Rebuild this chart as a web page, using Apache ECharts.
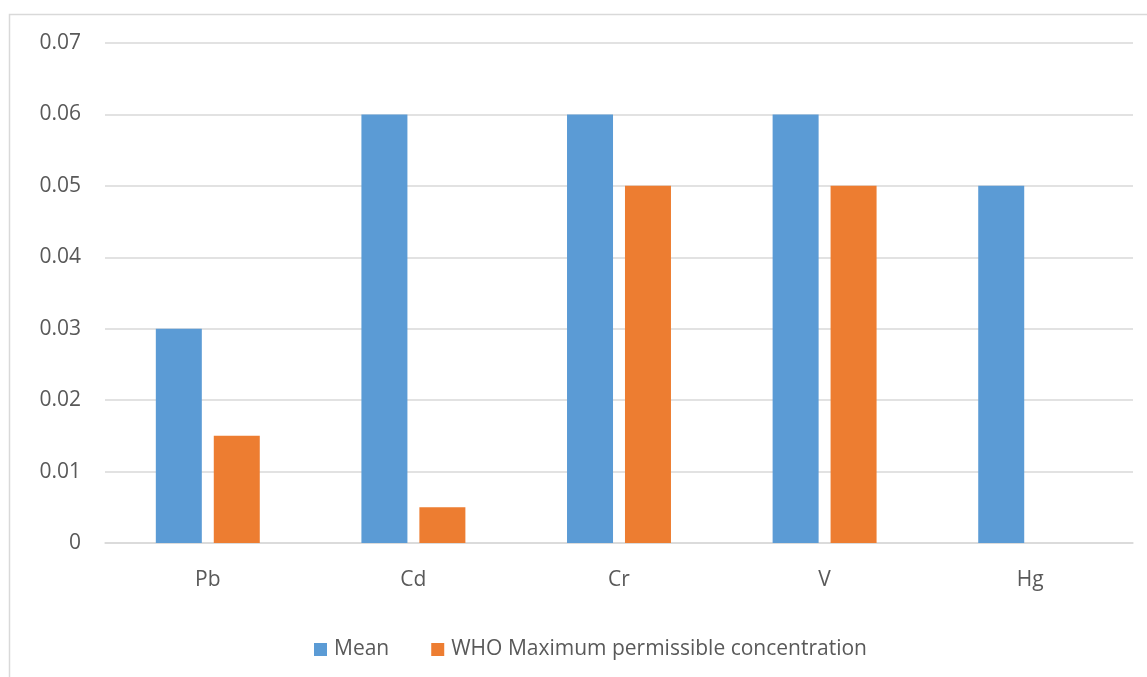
<!DOCTYPE html>
<html>
<head>
<meta charset="utf-8">
<script src="https://cdn.jsdelivr.net/npm/echarts@6/dist/echarts.min.js"></script>
<style>html,body{margin:0;padding:0;background:#fff}#c{width:1147px;height:677px}</style>
</head>
<body>
<div id="c"></div>
<script>
const categories = ['Pb', 'Cd', 'Cr', 'V', 'Hg'];
const meanValues = [0.03, 0.06, 0.06, 0.06, 0.05];
const whoValues = [0.015, 0.005, 0.05, 0.05, 0];
const seriesNames = ['Mean', 'WHO Maximum permissible concentration'];

const chart = echarts.init(document.getElementById('c'));
const font = '"Open Sans", "Liberation Sans", sans-serif';
chart.setOption({
  animation: false,
  backgroundColor: '#fff',
  graphic: [{
    type: 'rect', shape: { x: 9.5, y: 14.5, width: 1200, height: 700 },
    style: { fill: 'none', stroke: '#d9d9d9', lineWidth: 1.5 }, silent: true
  }],
  grid: { left: 105, right: 14, top: 43, bottom: 134, containLabel: false },
  legend: {
    top: 634, left: 309, itemWidth: 13, itemHeight: 13, itemGap: 42,
    icon: 'rect',
    textStyle: { fontFamily: font, fontSize: 21, color: '#595959', padding: [0, 0, 0, 2] },
    data: seriesNames
  },
  xAxis: {
    type: 'category', data: categories,
    axisLine: { lineStyle: { color: '#d9d9d9', width: 1.5 } },
    axisTick: { show: false },
    axisLabel: { fontFamily: font, fontSize: 21, color: '#595959', margin: 27 }
  },
  yAxis: {
    type: 'value', min: 0, max: 0.07, interval: 0.01,
    axisLine: { show: false }, axisTick: { show: false },
    splitLine: { lineStyle: { color: '#d9d9d9', width: 1.5 } },
    axisLabel: {
      fontFamily: font, fontSize: 21, color: '#595959', margin: 24,
      formatter: v => v === 0 ? '0' : v.toFixed(2)
    }
  },
  series: [
    { name: seriesNames[0], type: 'bar', data: meanValues, barWidth: 46, barGap: '26%', itemStyle: { color: '#5b9bd5' } },
    { name: seriesNames[1], type: 'bar', data: whoValues, barWidth: 46, itemStyle: { color: '#ed7d31' } }
  ]
});
</script>
</body>
</html>
